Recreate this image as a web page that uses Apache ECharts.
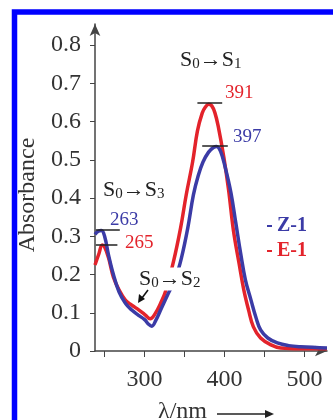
<!DOCTYPE html>
<html>
<head>
<meta charset="utf-8">
<script src="https://cdn.jsdelivr.net/npm/echarts@6/dist/echarts.min.js"></script>
<style>
  html, body { margin: 0; padding: 0; background: #fff; }
  #main { width: 333px; height: 420px; }
</style>
</head>
<body>
<div id="main"></div>
<script>
// Z-1 spectrum (blue)
const wlZ = [238, 242, 246, 250, 255, 261, 268, 276, 284, 292, 300, 305, 309, 314, 321, 330, 339, 346, 354, 361,
  367, 373, 380, 386, 390, 395, 401, 408, 414, 420, 426, 433, 439, 445, 454, 466, 480, 495, 528];
const absZ = [0.305, 0.313, 0.315, 0.300, 0.250, 0.200, 0.155, 0.125, 0.107, 0.094, 0.082, 0.070, 0.065, 0.080, 0.112,
  0.152, 0.193, 0.243, 0.322, 0.408, 0.458, 0.494, 0.520, 0.532, 0.535, 0.522, 0.478, 0.413, 0.335, 0.256,
  0.186, 0.133, 0.089, 0.055, 0.034, 0.021, 0.014, 0.011, 0.008];

// E-1 spectrum (red)
const wlE = [238, 243, 247, 250, 255, 261, 268, 276, 284, 293, 301, 307, 313, 320, 326, 336, 345, 352, 360, 366,
  372, 376, 380, 384, 388, 392, 399, 405, 411, 418, 424, 430, 436, 445, 458, 470, 495, 528];
const absE = [0.225, 0.255, 0.277, 0.272, 0.243, 0.193, 0.160, 0.133, 0.120, 0.107, 0.094, 0.084, 0.097, 0.125, 0.155,
  0.233, 0.322, 0.408, 0.494, 0.575, 0.622, 0.638, 0.645, 0.641, 0.622, 0.588, 0.507, 0.421, 0.316, 0.230,
  0.160, 0.107, 0.063, 0.034, 0.016, 0.008, 0.006, 0.006];

// peak marker bars: [from wl, to wl, absorbance]
const peakBarsE = [[366, 397, 0.648], [239, 266, 0.277]];
const peakBarsZ = [[372, 404, 0.536], [239, 269, 0.316]];

const xTicks = [250, 300, 350, 400, 450, 500];
const xLabels = [300, 400, 500];
const yLabels = [0, 0.1, 0.2, 0.3, 0.4, 0.5, 0.6, 0.7, 0.8];

const BLUE = "#3b3ba6";
const RED = "#e3232b";
const SERIF = "Liberation Serif";

const chart = echarts.init(document.getElementById("main"));

function pairs(xs, ys) {
  return xs.map((x, i) => [x, ys[i]]);
}
function bars(list) {
  return list.map((b) => [{ coord: [b[0], b[2]] }, { coord: [b[1], b[2]] }]);
}
// S0 -> Sn transition label
function trans(n, x, y) {
  return {
    type: "text",
    x: x,
    y: y,
    z: 100,
    style: {
      text: "S{sub|0}→S{sub|" + n + "}",
      fontSize: 22,
      fontFamily: SERIF,
      fill: "#222",
      textVerticalAlign: "middle",
      rich: {
        sub: { fontSize: 15, fontFamily: SERIF, verticalAlign: "bottom", padding: [8, 0, 0, 0] },
      },
    },
  };
}
function num(text, color, x, y) {
  return {
    type: "text",
    x: x,
    y: y,
    z: 100,
    style: { text: text, fill: color, fontSize: 19, fontFamily: SERIF, textVerticalAlign: "middle" },
  };
}

const s2 = trans(2, 138, 279);
s2.style.backgroundColor = "#fff"; // cuts the curves like in the original
s2.style.padding = [0, 1, 0, 1];

const option = {
  animation: false,
  grid: { left: 95, top: 24, right: 6, bottom: 69 },
  xAxis: {
    type: "value",
    min: 238,
    max: 528,
    splitLine: { show: false },
    axisLine: { lineStyle: { color: "#444", width: 1.5 }, symbol: ["none", "arrow"], symbolSize: [8, 12] },
    axisTick: { customValues: xTicks, length: 6, lineStyle: { color: "#444" } },
    axisLabel: { customValues: xLabels, margin: 17, fontSize: 24, fontFamily: SERIF, color: "#333" },
  },
  yAxis: {
    type: "value",
    min: 0,
    max: 0.855,
    splitLine: { show: false },
    axisLine: { show: true, lineStyle: { color: "#444", width: 1.5 }, symbol: ["none", "arrow"], symbolSize: [8, 12] },
    axisTick: { show: true, customValues: yLabels, length: 5, lineStyle: { color: "#444" } },
    axisLabel: { customValues: yLabels, margin: 14, fontSize: 24, fontFamily: SERIF, color: "#333", padding: [5, 0, 0, 0] },
  },
  legend: {
    orient: "vertical",
    left: 262,
    top: 211,
    itemWidth: 5,
    itemHeight: 2,
    itemGap: 5,
    icon: "rect",
    textStyle: { fontSize: 20, fontWeight: "bold", fontFamily: SERIF },
    data: [
      { name: "Z-1", textStyle: { color: BLUE } },
      { name: "E-1", textStyle: { color: RED } },
    ],
  },
  series: [
    {
      name: "E-1",
      type: "line",
      smooth: 0.4,
      showSymbol: false,
      color: RED,
      lineStyle: { width: 3.5, color: RED },
      data: pairs(wlE, absE),
      markLine: {
        silent: true,
        symbol: "none",
        label: { show: false },
        lineStyle: { color: "#222", type: "solid", width: 1.5 },
        data: bars(peakBarsE),
      },
    },
    {
      name: "Z-1",
      type: "line",
      smooth: 0.4,
      showSymbol: false,
      color: BLUE,
      lineStyle: { width: 3.5, color: BLUE },
      data: pairs(wlZ, absZ),
      markLine: {
        silent: true,
        symbol: "none",
        label: { show: false },
        lineStyle: { color: "#222", type: "solid", width: 1.5 },
        data: bars(peakBarsZ),
      },
    },
  ],
  graphic: [
    // blue frame
    {
      type: "polyline",
      shape: { points: [[14.5, 430], [14.5, 12], [345, 12]] },
      style: { stroke: "#0000ff", lineWidth: 5.5, fill: null },
    },
    {
      type: "text",
      x: 28,
      y: 195,
      rotation: Math.PI / 2,
      style: { text: "Absorbance", fontSize: 24, fontFamily: SERIF, fill: "#333", textAlign: "center", textVerticalAlign: "middle" },
    },
    {
      type: "text",
      x: 158,
      y: 412,
      style: { text: "λ/nm", fontSize: 24, fontFamily: SERIF, fill: "#333", textVerticalAlign: "middle" },
    },
    { type: "line", shape: { x1: 217, y1: 414, x2: 266, y2: 414 }, style: { stroke: "#222", lineWidth: 1.5 } },
    { type: "polygon", shape: { points: [[274, 414], [265, 410], [265, 418]] }, style: { fill: "#222" } },
    trans(1, 180, 60),
    trans(3, 103, 190),
    s2,
    // small arrow pointing at the S0->S2 shoulder
    { type: "line", shape: { x1: 148, y1: 290, x2: 142, y2: 298 }, style: { stroke: "#111", lineWidth: 1.5 }, z: 101 },
    { type: "polygon", shape: { points: [[138, 303], [139, 294], [145, 299]] }, style: { fill: "#111" }, z: 101 },
    num("391", RED, 225, 93),
    num("397", BLUE, 233, 137),
    num("263", BLUE, 110, 220),
    num("265", RED, 125, 243),
  ],
};

chart.setOption(option);
</script>
</body>
</html>
